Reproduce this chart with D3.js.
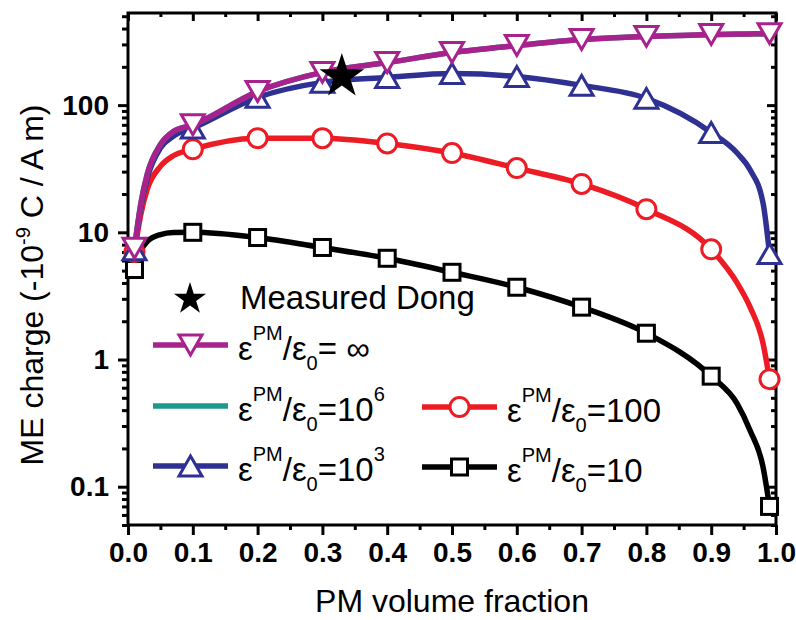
<!DOCTYPE html>
<html>
<head>
<meta charset="utf-8">
<script src="https://cdn.jsdelivr.net/npm/d3@7"></script>
<style>
  html, body { margin: 0; padding: 0; background: #fff; }
  svg { display: block; font-family: "Liberation Sans", Arial, sans-serif; }
</style>
</head>
<body>
<div id="chart"></div>
<script>
// ME charge vs PM volume fraction, log y axis
// line samples and marker positions
const xLine   = [0.01, 0.02, 0.03, 0.05, 0.07, 0.1, 0.2, 0.3, 0.4, 0.5, 0.6, 0.7, 0.8, 0.9, 0.94, 0.96, 0.98, 0.99];
const qInf    = [7.5, 17, 29, 49, 62, 70, 128, 181, 216, 259, 294, 328, 347, 359, 362, 363, 364, 365];
const q1e6    = [7.5, 17, 29, 49, 62, 70, 128, 181, 216, 259, 294, 328, 347, 358, 361, 362, 362, 362];
const q1e3    = [7.3, 16, 27, 46, 57, 66, 115, 151, 165, 177, 168, 143, 113, 61, 42, 31, 17, 6.8];
const q100    = [7.0, 14, 22, 33, 40, 45, 55, 55, 50, 42, 32, 24, 15.2, 7.35, 4.0, 2.58, 1.34, 0.70];
const q10     = [5.1, 7.2, 8.5, 9.6, 9.95, 10, 9.1, 7.6, 6.25, 4.85, 3.7, 2.58, 1.61, 0.74, 0.45, 0.277, 0.143, 0.07];
const markerX = [0.01, 0.1, 0.2, 0.3, 0.4, 0.5, 0.6, 0.7, 0.8, 0.9, 0.99];
const measured = { x: 0.33, y: 168 };

const xTicks  = [0, 0.1, 0.2, 0.3, 0.4, 0.5, 0.6, 0.7, 0.8, 0.9, 1.0];
const yTicks  = [0.1, 1, 10, 100];

const series = [
  { key: "10",   values: q10,  color: "#000000", marker: "square", sup: null, tail: "=10" },
  { key: "100",  values: q100, color: "#ED1C24", marker: "circle", sup: null, tail: "=100" },
  { key: "1e3",  values: q1e3, color: "#2E3192", marker: "up",     sup: "3",  tail: "=10" },
  { key: "1e6",  values: q1e6, color: "#1B998B", marker: null,     sup: "6",  tail: "=10" },
  { key: "inf",  values: qInf, color: "#A8228E", marker: "down",   sup: null, tail: "= \u221E" }
];

const width = 796, height = 620;
const plot = { left: 128, right: 776, top: 13, bottom: 525 };

const svg = d3.select("#chart").append("svg").attr("width", width).attr("height", height);

const x = d3.scaleLinear().domain([0, 1]).range([plot.left, plot.right]);
const y = d3.scaleLog().domain([0.05, 530]).range([plot.bottom, plot.top]);

// minor tick values
const xMinor = d3.range(0.05, 1, 0.1);
const yMinor = [];
[0.01, 0.1, 1, 10, 100].forEach(dec => {
  for (let m = 2; m <= 9; m++) {
    const v = dec * m;
    if (v >= 0.05 && v <= 530 && !yTicks.includes(v)) yMinor.push(v);
  }
});

// axes
function styleAxis(g) {
  g.select(".domain").remove();
  g.selectAll("line").attr("stroke", "#000").attr("stroke-width", 3);
  g.selectAll("text").attr("fill", "#000").attr("font-weight", "bold").attr("font-size", 28)
    .attr("font-family", "'Liberation Sans', Arial, sans-serif");
}

svg.append("g").attr("transform", `translate(0,${plot.bottom})`)
  .call(d3.axisBottom(x).tickValues(xTicks).tickFormat(d3.format(".1f")).tickSize(10).tickPadding(7))
  .call(styleAxis);
svg.append("g").attr("transform", `translate(0,${plot.bottom})`)
  .call(d3.axisBottom(x).tickValues(xMinor).tickFormat("").tickSize(5)).call(styleAxis);
svg.append("g").attr("transform", `translate(0,${plot.top})`)
  .call(d3.axisTop(x).tickValues(xTicks).tickFormat("").tickSize(-8)).call(styleAxis);
svg.append("g").attr("transform", `translate(0,${plot.top})`)
  .call(d3.axisTop(x).tickValues(xMinor).tickFormat("").tickSize(-4)).call(styleAxis);

svg.append("g").attr("transform", `translate(${plot.left},0)`)
  .call(d3.axisLeft(y).tickValues(yTicks).tickFormat(d => d3.format("~g")(d)).tickSize(10).tickPadding(9))
  .call(styleAxis);
svg.append("g").attr("transform", `translate(${plot.left},0)`)
  .call(d3.axisLeft(y).tickValues(yMinor).tickFormat("").tickSize(6)).call(styleAxis);
svg.append("g").attr("transform", `translate(${plot.right},0)`)
  .call(d3.axisRight(y).tickValues(yTicks).tickFormat("").tickSize(-9)).call(styleAxis);
svg.append("g").attr("transform", `translate(${plot.right},0)`)
  .call(d3.axisRight(y).tickValues(yMinor).tickFormat("").tickSize(-5)).call(styleAxis);

// frame
svg.append("rect")
  .attr("x", plot.left).attr("y", plot.top)
  .attr("width", plot.right - plot.left).attr("height", plot.bottom - plot.top)
  .attr("fill", "none").attr("stroke", "#000").attr("stroke-width", 3);

// markers
const triS = 23, triH = triS * Math.sqrt(3) / 2;
function drawMarker(g, type, color, cx, cy) {
  if (type === "circle") {
    g.append("circle").attr("cx", cx).attr("cy", cy).attr("r", 9.5)
      .attr("fill", "#fff").attr("stroke", color).attr("stroke-width", 3);
  } else if (type === "square") {
    g.append("rect").attr("x", cx - 8).attr("y", cy - 8).attr("width", 16).attr("height", 16)
      .attr("fill", "#fff").attr("stroke", color).attr("stroke-width", 3);
  } else if (type === "up" || type === "down") {
    const s = type === "up" ? 1 : -1;
    const pts = [[cx - triS / 2, cy + s * triH / 2], [cx + triS / 2, cy + s * triH / 2], [cx, cy - s * triH / 2]];
    g.append("path").attr("d", "M" + pts.join("L") + "Z")
      .attr("fill", "#fff").attr("stroke", color).attr("stroke-width", 3);
  }
}

const line = d3.line().x(d => x(d[0])).y(d => y(d[1])).curve(d3.curveMonotoneX);
const dataG = svg.append("g");

series.forEach(s => {
  const pts = xLine.map((xv, i) => [xv, s.values[i]]);
  const g = dataG.append("g");
  g.append("path").attr("d", line(pts)).attr("fill", "none")
    .attr("stroke", s.color).attr("stroke-width", 5.5);
  if (s.marker) {
    pts.filter(p => markerX.includes(p[0]))
      .forEach(p => drawMarker(g, s.marker, s.color, x(p[0]), y(p[1])));
  }
});

// measured point
svg.append("path")
  .attr("d", d3.symbol(d3.symbolStar, 620)())
  .attr("transform", `translate(${x(measured.x)},${y(measured.y)})`)
  .attr("fill", "#000");

// legend
const leg = svg.append("g").attr("font-size", 33).attr("fill", "#000");
leg.append("path").attr("d", d3.symbol(d3.symbolStar, 320)())
  .attr("transform", "translate(190,299)").attr("fill", "#000");
leg.append("text").attr("x", 240).attr("y", 309).text("Measured Dong");

function epsLabel(g, x0, y0, tail, tailSup) {
  const t = g.append("text").attr("x", x0).attr("y", y0);
  t.append("tspan").text("\u03B5");
  t.append("tspan").attr("font-size", 20).attr("dy", -20).text("PM");
  t.append("tspan").attr("dy", 20).text("/\u03B5");
  t.append("tspan").attr("font-size", 20).attr("dy", 10).text("0");
  t.append("tspan").attr("dy", -10).text(tail);
  if (tailSup) t.append("tspan").attr("font-size", 20).attr("dy", -20).text(tailSup);
}

const legendPos = {
  inf: [153, 345], "1e6": [153, 406], "1e3": [153, 466],
  "100": [422, 407], "10": [422, 467]
};
series.forEach(s => {
  const [lx, ly] = legendPos[s.key];
  leg.append("line").attr("x1", lx).attr("x2", lx + 75).attr("y1", ly).attr("y2", ly)
    .attr("stroke", s.color).attr("stroke-width", 5.5);
  if (s.marker) drawMarker(leg, s.marker, s.color, lx + 37.5, ly);
  epsLabel(leg, lx + 85, ly + 15, s.tail, s.sup);
});

// axis titles
svg.append("text")
  .attr("x", (plot.left + plot.right) / 2).attr("y", 612)
  .attr("text-anchor", "middle").attr("font-size", 32)
  .text("PM volume fraction");

const yt = svg.append("text")
  .attr("transform", "translate(43,285) rotate(-90)")
  .attr("text-anchor", "middle").attr("font-size", 32);
yt.append("tspan").text("ME charge (-10");
yt.append("tspan").attr("font-size", 20).attr("dy", -13).text("-9");
yt.append("tspan").attr("dy", 13).text(" C / A m)");
</script>
</body>
</html>
